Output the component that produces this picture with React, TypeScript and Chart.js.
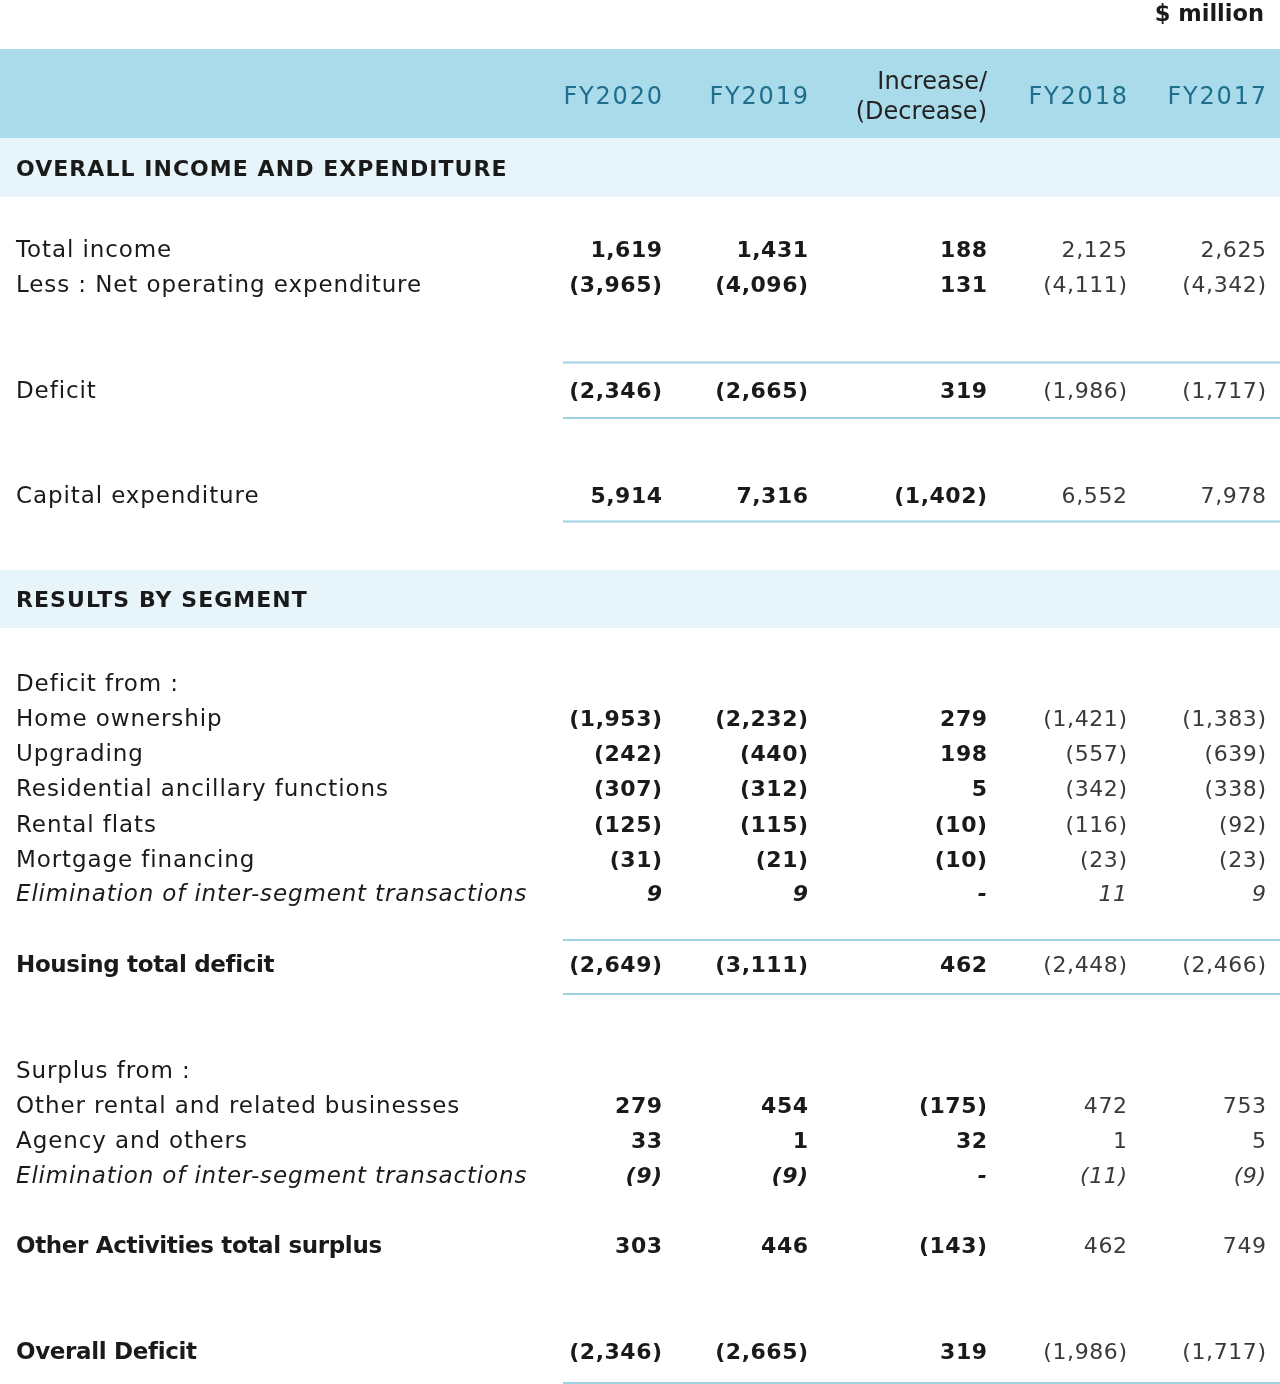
import React, { useEffect, useRef } from "react";
import { Chart, registerables } from "chart.js";

Chart.register(...registerables);

// ---------------- data ----------------
const UNIT_LABEL = "$ million";
const COLUMN_HEADERS = ["FY2020", "FY2019", "Increase/\n(Decrease)", "FY2018", "FY2017"];
const SECTION_TITLES = ["OVERALL INCOME AND EXPENDITURE", "RESULTS BY SEGMENT"];

const ROW_LABELS = [
  "Total income",
  "Less : Net operating expenditure",
  "Deficit",
  "Capital expenditure",
  "Deficit from :",
  "Home ownership",
  "Upgrading",
  "Residential ancillary functions",
  "Rental flats",
  "Mortgage financing",
  "Elimination of inter-segment transactions",
  "Housing total deficit",
  "Surplus from :",
  "Other rental and related businesses",
  "Agency and others",
  "Elimination of inter-segment transactions",
  "Other Activities total surplus",
  "Overall Deficit",
];

// normal | italic | total
const ROW_KIND = [
  "normal", "normal", "normal", "normal", "normal",
  "normal", "normal", "normal", "normal", "normal", "italic",
  "total",
  "normal", "normal", "normal", "italic",
  "total", "total",
];

const FY2020 = [1619, -3965, -2346, 5914, null, -1953, -242, -307, -125, -31, 9, -2649, null, 279, 33, -9, 303, -2346];
const FY2019 = [1431, -4096, -2665, 7316, null, -2232, -440, -312, -115, -21, 9, -3111, null, 454, 1, -9, 446, -2665];
const CHANGE = [188, 131, 319, -1402, null, 279, 198, 5, -10, -10, 0, 462, null, -175, 32, 0, -143, 319];
const FY2018 = [2125, -4111, -1986, 6552, null, -1421, -557, -342, -116, -23, 11, -2448, null, 472, 1, -11, 462, -1986];
const FY2017 = [2625, -4342, -1717, 7978, null, -1383, -639, -338, -92, -23, 9, -2466, null, 753, 5, -9, 749, -1717];

const VALUE_COLUMNS = [FY2020, FY2019, CHANGE, FY2018, FY2017];
const BOLD_COLUMNS = [true, true, true, false, false];

// ---------------- layout ----------------
const W = 1280;
const H = 1384;
const LABEL_X = 16;
const COL_RIGHT = [662, 808, 987, 1127, 1266];
const ROW_Y = [249, 284, 390, 495, 683, 718, 753, 788, 824, 859, 893, 964, 1070, 1105, 1140, 1175, 1245, 1351];
const HEADER_BAND = [49, 138];
const HEADER_Y = 96;
const HEADER_LINE_GAP = 30;
const SECTION_BANDS = [[138, 197], [570, 628]];
const RULE_Y = [362.5, 418, 521.5, 940, 994, 1383];
const RULE_X = [563, 1280];
const UNIT_POS = [1264, 13];

// ---------------- style ----------------
const FONT = '"DejaVu Sans", "Open Sans", sans-serif';
const HEADER_BG = "#a9dbeb";
const SECTION_BG = "#e7f5fa";
const HEADER_TEXT = "#1f6e8c";
const TEXT = "#1a1a1a";
const LIGHT_TEXT = "#3a3a3a";
const RULE = "#9fd2e1";

function fmt(v: number): string {
  if (v === 0) return "-";
  const s = Math.abs(v).toLocaleString("en-US");
  return v < 0 ? `(${s})` : s;
}

type TextOpts = {
  size: number;
  weight: number;
  italic?: boolean;
  color: string;
  align: "left" | "right";
  spacing: number;
};

function drawText(ctx: CanvasRenderingContext2D, text: string, x: number, cy: number, o: TextOpts) {
  ctx.font = `${o.italic ? "italic " : ""}${o.weight} ${o.size}px ${FONT}`;
  (ctx as any).letterSpacing = `${o.spacing}px`;
  ctx.fillStyle = o.color;
  ctx.textAlign = o.align;
  ctx.textBaseline = "alphabetic";
  const xx = o.align === "right" ? x + o.spacing : x;
  ctx.fillText(text, xx, cy + (o.size * 0.729) / 2);
}

const tablePlugin = {
  id: "tablePlugin",
  beforeDatasetsDraw(chart: any) {
    const { ctx, scales } = chart;
    const sx = scales.x;
    const sy = scales.y;
    const px = (v: number) => sx.getPixelForValue(v);
    const py = (v: number) => sy.getPixelForValue(v);
    ctx.save();
    ctx.fillStyle = HEADER_BG;
    ctx.fillRect(px(0), py(HEADER_BAND[0]), px(W) - px(0), py(HEADER_BAND[1]) - py(HEADER_BAND[0]));
    ctx.fillStyle = SECTION_BG;
    SECTION_BANDS.forEach(([a, b]) => {
      ctx.fillRect(px(0), py(a), px(W) - px(0), py(b) - py(a));
    });
    ctx.strokeStyle = RULE;
    ctx.lineWidth = 2;
    RULE_Y.forEach((yv) => {
      ctx.beginPath();
      ctx.moveTo(px(RULE_X[0]), py(yv));
      ctx.lineTo(px(RULE_X[1]), py(yv));
      ctx.stroke();
    });
    // unit label
    drawText(ctx, UNIT_LABEL, px(UNIT_POS[0]), py(UNIT_POS[1]), {
      size: 22.5, weight: 700, color: TEXT, align: "right", spacing: 0,
    });
    // column headers
    COLUMN_HEADERS.forEach((h, i) => {
      const lines = h.split("\n");
      const isChange = lines.length > 1;
      lines.forEach((ln, k) => {
        const cy = HEADER_Y + (k - (lines.length - 1) / 2) * HEADER_LINE_GAP - 1;
        drawText(ctx, ln, px(COL_RIGHT[i]), py(cy), {
          size: 24, weight: 400, color: isChange ? "#222" : HEADER_TEXT, align: "right", spacing: isChange ? 0 : 1.8,
        });
      });
    });
    // section titles
    SECTION_TITLES.forEach((t, i) => {
      const [a, b] = SECTION_BANDS[i];
      drawText(ctx, t, px(LABEL_X), py((a + b) / 2), {
        size: 22, weight: 700, color: TEXT, align: "left", spacing: 1.05,
      });
    });
    ctx.restore();
  },
  afterDatasetsDraw(chart: any) {
    const { ctx } = chart;
    ctx.save();
    chart.data.datasets.forEach((ds: any, di: number) => {
      const meta = chart.getDatasetMeta(di);
      meta.data.forEach((el: any, i: number) => {
        const raw = ds.data[i];
        const kind = ROW_KIND[raw.row];
        if (ds.role === "label") {
          drawText(ctx, ROW_LABELS[raw.row], el.x, el.y, {
            size: 23,
            weight: kind === "total" ? 700 : 400,
            italic: kind === "italic",
            color: TEXT,
            align: "left",
            spacing: kind === "total" ? -0.35 : kind === "italic" ? 0.85 : 0.9,
          });
        } else {
          const col = ds.col as number;
          const bold = BOLD_COLUMNS[col];
          drawText(ctx, fmt(raw.v), el.x, el.y, {
            size: 22,
            weight: bold ? 700 : 400,
            italic: kind === "italic",
            color: bold ? TEXT : LIGHT_TEXT,
            align: "right",
            spacing: bold ? 0.5 : 0.6,
          });
        }
      });
    });
    ctx.restore();
  },
};

export default function App() {
  const ref = useRef<HTMLCanvasElement | null>(null);
  useEffect(() => {
    if (!ref.current) return;
    const labelData = ROW_LABELS.map((_, r) => ({ x: LABEL_X, y: ROW_Y[r], row: r }));
    const valueSets = VALUE_COLUMNS.map((col, c) => ({
      role: "value",
      col: c,
      label: COLUMN_HEADERS[c],
      data: col
        .map((v, r) => (v === null ? null : { x: COL_RIGHT[c], y: ROW_Y[r], row: r, v }))
        .filter((p) => p !== null),
      pointRadius: 0,
      showLine: false,
    }));
    const chart = new Chart(ref.current, {
      type: "scatter",
      data: {
        datasets: [
          { role: "label", label: "labels", data: labelData, pointRadius: 0, showLine: false } as any,
          ...(valueSets as any[]),
        ],
      },
      options: {
        animation: false,
        responsive: false,
        devicePixelRatio: 1,
        events: [],
        layout: { padding: 0 },
        scales: {
          x: { type: "linear", min: 0, max: W, display: false },
          y: { type: "linear", min: 0, max: H, reverse: true, display: false },
        },
        plugins: { legend: { display: false }, tooltip: { enabled: false } },
      },
      plugins: [tablePlugin],
    });
    return () => chart.destroy();
  }, []);
  return (
    <div style={{ position: "absolute", left: 0, top: 0, width: W, height: H, background: "#fff" }}>
      <canvas ref={ref} width={W} height={H} style={{ display: "block", width: W, height: H }} />
    </div>
  );
}
